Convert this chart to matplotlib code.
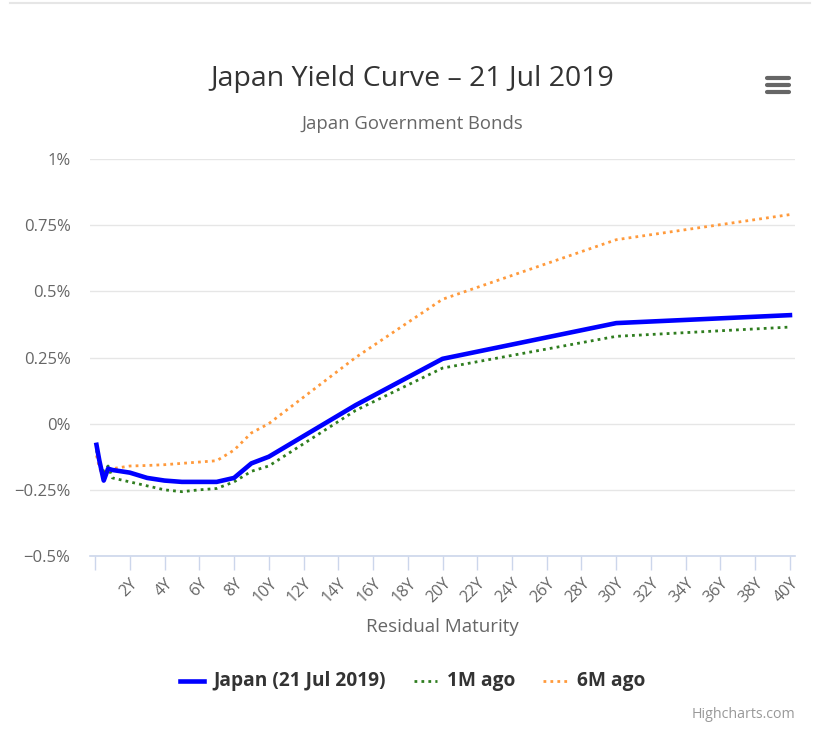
import numpy as np
import matplotlib
matplotlib.use("Agg")
import matplotlib.pyplot as plt
from matplotlib import font_manager

# maturities in years
maturity = [1/12, 0.25, 0.5, 0.75, 1, 2, 3, 4, 5, 6, 7, 8, 9, 10, 15, 20, 30, 40]
japan_now = [-0.08, -0.14, -0.215, -0.17, -0.175, -0.185, -0.205, -0.215, -0.22, -0.22,
             -0.22, -0.205, -0.15, -0.125, 0.07, 0.245, 0.38, 0.41]
ago_1m = [-0.10, -0.15, -0.18, -0.16, -0.205, -0.22, -0.235, -0.25, -0.257, -0.25,
          -0.245, -0.22, -0.18, -0.16, 0.05, 0.21, 0.33, 0.365]
ago_6m = [-0.12, -0.165, -0.21, -0.18, -0.17, -0.16, -0.158, -0.155, -0.15, -0.145,
          -0.14, -0.10, -0.035, 0.0, 0.25, 0.47, 0.695, 0.79]

xticks = list(range(0, 41, 2))
xlabels = [""] + [f"{t}Y" for t in xticks[1:]]
yticks = [-0.5, -0.25, 0, 0.25, 0.5, 0.75, 1]
ylabels = ["−0.5%", "−0.25%", "0%", "0.25%", "0.5%", "0.75%", "1%"]

names = {f.name for f in font_manager.fontManager.ttflist}
fam = [f for f in ["Liberation Sans Narrow", "Open Sans", "DejaVu Sans"] if f in names]
plt.rcParams['font.family'] = fam

fig = plt.figure(figsize=(8.35, 7.39), dpi=100)
ax = fig.add_axes([90/835, 1-556/739, 705/835, 397/739])

ax.plot(maturity, japan_now, color="#0000ff", lw=3.3, solid_joinstyle="round", label="Japan (21 Jul 2019)", zorder=4)
ax.plot(maturity, ago_1m, color="#2f7d1f", lw=2.0, ls=(0, (1, 1.5)), label="1M ago", zorder=3)
ax.plot(maturity, ago_6m, color="#ff9a3c", lw=2.0, ls=(0, (1, 1.5)), label="6M ago", zorder=3)

ax.set_xlim(-0.29, 40.29)
ax.set_ylim(-0.5, 1.0)
ax.set_yticks(yticks)
ax.set_yticklabels(ylabels, color="#666666", fontsize=12)
ax.set_xticks(xticks)
ax.set_xticklabels(xlabels, rotation=45, ha="right", rotation_mode="anchor", color="#666666", fontsize=11.5)
ax.tick_params(axis="y", length=0, pad=14)
ax.tick_params(axis="x", length=10, width=1, color="#ccd6eb", pad=4)
ax.grid(axis="y", color="#e6e6e6", lw=1)
for s in ["top", "right", "left"]:
    ax.spines[s].set_visible(False)
ax.spines["bottom"].set_color("#ccd6eb")
ax.spines["bottom"].set_linewidth(1.2)
ax.set_axisbelow(True)
ax.set_xlabel("Residual Maturity", color="#666666", fontsize=13.5, labelpad=9)

fig.text(0.494, 1-79/739, "Japan Yield Curve – 21 Jul 2019", ha="center", va="center", fontsize=20.5, color="#333333")
fig.text(0.494, 1-124/739, "Japan Government Bonds", ha="center", va="center", fontsize=13.3, color="#666666")

leg = fig.legend(loc="center", bbox_to_anchor=(0.494, 1-681/739), ncol=3, frameon=False,
                 handlelength=1.7, columnspacing=2.0, handletextpad=0.7)
for t in leg.get_texts():
    t.set_fontweight("bold")
    t.set_color("#333333")
    t.set_fontsize(13.8)

fig.text(795/835, 1-715/739, "Highcharts.com", ha="right", va="center", fontsize=10.3, color="#999999")

# menu icon and top border
for yy in [78, 85, 92]:
    fig.add_artist(plt.Line2D([767/835, 789/835], [1-yy/739]*2, color="#666666", lw=3, solid_capstyle="round"))
fig.add_artist(plt.Line2D([10/835, 810/835], [1-3/739]*2, color="#e6e6e6", lw=1.5))

fig.savefig("out.png", dpi=100, facecolor="white")
